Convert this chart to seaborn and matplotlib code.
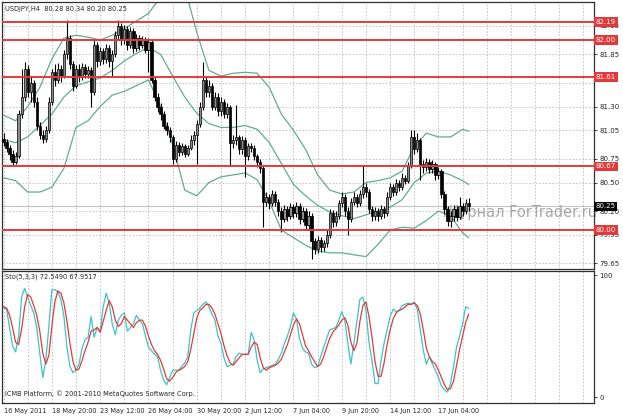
import numpy as np
import pandas as pd
import matplotlib
matplotlib.use("Agg")
import matplotlib.pyplot as plt
import seaborn as sns

# ---- USDJPY H4 candles ----
first_open = 80.96
close = [80.93, 80.86, 80.80, 80.72, 80.78, 81.22, 81.40, 81.70, 81.45, 81.55,
         81.35, 81.10, 81.00, 80.96, 81.05, 81.35, 81.66, 81.58, 81.70, 81.62,
         81.85, 82.02, 81.75, 81.52, 81.70, 81.62, 81.72, 81.64, 81.68, 81.45,
         81.95, 81.78, 81.88, 81.80, 81.92, 81.78, 81.85, 82.05, 82.15, 82.00,
         82.12, 81.95, 82.10, 81.92, 82.02, 81.95, 82.00, 81.90, 81.98, 81.58,
         81.40, 81.30, 81.22, 81.10, 81.05, 80.98, 80.75, 80.90, 80.82, 80.88,
         80.80, 80.86, 80.95, 81.00, 81.12, 81.30, 81.58, 81.45, 81.52, 81.30,
         81.40, 81.25, 81.35, 81.22, 81.30, 80.92, 80.95, 80.98, 80.85, 80.95,
         80.78, 80.88, 80.86, 80.78, 80.72, 80.65, 80.30, 80.35, 80.28, 80.38,
         80.30, 80.20, 80.12, 80.22, 80.15, 80.24, 80.18, 80.25, 80.12, 80.20,
         80.05, 80.15, 79.88, 79.80, 79.90, 79.82, 79.86, 79.95, 80.18, 80.08,
         80.15, 80.28, 80.35, 80.20, 80.12, 80.30, 80.35, 80.28, 80.38, 80.45,
         80.40, 80.22, 80.15, 80.20, 80.15, 80.22, 80.18, 80.35, 80.45, 80.40,
         80.50, 80.45, 80.55, 80.52, 80.68, 80.98, 80.85, 80.95, 80.70, 80.66,
         80.72, 80.64, 80.70, 80.58, 80.62, 80.38, 80.22, 80.10, 80.15, 80.22,
         80.14, 80.25, 80.20, 80.28, 80.25]
high = [81.02, 80.96, 80.90, 80.84, 80.82, 81.26, 81.70, 81.77, 81.74, 81.62,
        81.58, 81.40, 81.14, 81.05, 81.10, 81.40, 81.70, 81.75, 81.76, 81.74,
        81.90, 82.21, 82.05, 81.78, 81.74, 81.75, 81.76, 81.75, 81.73, 81.72,
        82.00, 81.98, 81.93, 81.92, 81.96, 81.95, 81.90, 82.10, 82.21, 82.18,
        82.16, 82.15, 82.14, 82.13, 82.06, 82.05, 82.04, 82.03, 82.02, 82.00,
        81.62, 81.44, 81.34, 81.25, 81.14, 81.08, 81.00, 80.94, 80.93, 80.92,
        80.91, 80.90, 81.00, 81.04, 81.16, 81.35, 81.77, 81.62, 81.58, 81.55,
        81.45, 81.44, 81.40, 81.38, 81.34, 81.32, 81.00, 81.32, 81.00, 80.99,
        80.98, 80.92, 80.92, 80.89, 80.80, 80.75, 80.68, 80.40, 80.38, 80.42,
        80.41, 80.33, 80.24, 80.26, 80.25, 80.28, 80.27, 80.30, 80.28, 80.24,
        80.23, 80.20, 80.18, 79.92, 79.94, 79.93, 79.90, 80.00, 80.22, 80.21,
        80.20, 80.32, 80.40, 80.38, 80.24, 80.34, 80.40, 80.38, 80.42, 80.68,
        80.50, 80.43, 80.25, 80.24, 80.23, 80.26, 80.25, 80.40, 80.50, 80.48,
        80.54, 80.53, 80.60, 80.58, 80.72, 81.05, 81.05, 81.02, 80.97, 80.74,
        80.76, 80.75, 80.74, 80.72, 80.66, 80.64, 80.41, 80.25, 80.20, 80.26,
        80.25, 80.35, 80.28, 80.33, 80.34]
low = [80.88, 80.82, 80.74, 80.68, 80.69, 80.76, 81.18, 81.36, 81.40, 81.35,
       81.30, 81.05, 80.96, 80.92, 80.93, 81.02, 81.32, 81.52, 81.55, 81.56,
       81.60, 81.80, 81.70, 81.46, 81.50, 81.56, 81.58, 81.60, 81.60, 81.30,
       81.42, 81.72, 81.74, 81.75, 81.76, 81.72, 81.61, 81.82, 82.00, 81.95,
       81.96, 81.90, 81.92, 81.86, 81.88, 81.90, 81.92, 81.86, 81.66, 81.55,
       81.36, 81.24, 81.16, 81.06, 81.00, 80.93, 80.70, 80.72, 80.78, 80.79,
       80.77, 80.78, 80.84, 80.90, 80.70, 81.08, 81.26, 81.40, 81.40, 81.26,
       81.26, 81.20, 81.20, 81.18, 81.18, 80.67, 80.86, 80.90, 80.80, 80.80,
       80.56, 80.74, 80.82, 80.74, 80.66, 80.60, 80.03, 80.25, 80.22, 80.25,
       80.25, 80.15, 79.98, 80.08, 80.10, 80.12, 80.13, 80.14, 80.06, 80.08,
       80.00, 80.00, 79.70, 79.75, 79.76, 79.77, 79.78, 79.82, 79.92, 80.03,
       80.04, 80.12, 80.24, 80.15, 79.95, 80.08, 80.26, 80.24, 80.25, 80.34,
       80.35, 80.18, 80.10, 80.11, 80.10, 80.12, 80.13, 80.15, 80.32, 80.36,
       80.37, 80.41, 80.42, 80.48, 80.50, 80.65, 80.80, 80.82, 80.53, 80.60,
       80.62, 80.60, 80.60, 80.53, 80.54, 80.34, 80.17, 80.04, 80.03, 80.10,
       80.10, 80.12, 80.15, 80.17, 80.20]

# ---- Bollinger bands (sampled every few bars) ----
bb_bar = [0, 4, 8, 12, 16, 20, 24, 28, 32, 36, 40, 44, 48, 52, 56, 60, 64, 68, 72, 76,
          80, 84, 88, 92, 96, 100, 104, 108, 112, 116, 120, 124, 128, 132, 136, 140,
          144, 148, 152, 154]
bb_upper = [81.21, 81.15, 81.30, 81.50, 81.80, 82.02, 82.05, 82.03, 82.00, 82.05,
            82.12, 82.20, 82.28, 82.45, 82.65, 82.55, 82.08, 81.68, 81.62, 81.65,
            81.66, 81.65, 81.50, 81.22, 81.05, 80.85, 80.58, 80.42, 80.38, 80.40,
            80.50, 80.52, 80.55, 80.62, 80.88, 81.02, 80.98, 80.98, 81.06, 81.04]
bb_mid = [80.95, 80.92, 80.98, 81.10, 81.22, 81.40, 81.52, 81.56, 81.60, 81.68,
          81.78, 81.86, 81.92, 81.85, 81.62, 81.40, 81.23, 81.12, 81.08, 81.08,
          81.10, 81.06, 80.92, 80.70, 80.48, 80.36, 80.26, 80.19, 80.15, 80.12,
          80.16, 80.20, 80.24, 80.32, 80.50, 80.60, 80.62, 80.58, 80.52, 80.48]
bb_lower = [80.55, 80.52, 80.40, 80.40, 80.45, 80.65, 81.08, 81.15, 81.30, 81.42,
            81.46, 81.52, 81.58, 81.30, 80.90, 80.42, 80.36, 80.50, 80.56, 80.58,
            80.60, 80.53, 80.30, 80.00, 79.92, 79.84, 79.78, 79.76, 79.76, 79.74,
            79.72, 79.85, 80.00, 80.03, 80.02, 80.10, 80.20, 80.15, 79.97, 79.92]

# ---- Stochastic (5,3,3) ----
sto_main = [73, 72, 57, 42, 37, 50, 82, 89, 82, 75,
            69, 57, 36, 16, 30, 57, 88, 88, 86, 80,
            66, 41, 25, 20, 22, 27, 40, 47, 49, 66,
            49, 57, 54, 74, 85, 77, 60, 51, 63, 67,
            69, 54, 57, 60, 67, 63, 60, 50, 41, 38,
            35, 33, 22, 14, 10, 16, 22, 22, 22, 25,
            28, 33, 55, 69, 71, 73, 76, 78, 74, 68,
            63, 50, 44, 32, 25, 26, 27, 33, 36, 35,
            35, 35, 53, 47, 30, 20, 23, 24, 25, 26,
            27, 31, 36, 44, 50, 58, 69, 64, 48, 40,
            37, 36, 27, 24, 25, 33, 41, 48, 55, 56,
            57, 63, 70, 63, 44, 27, 44, 62, 80, 82,
            71, 45, 30, 11, 11, 30, 44, 55, 66, 72,
            70, 71, 75, 76, 77, 76, 78, 72, 55, 38,
            27, 33, 27, 22, 16, 9, 6, 4, 11, 25,
            41, 50, 60, 74, 72.55]
sto_signal = [74, 73, 67, 57, 45, 43, 56, 74, 84, 82,
              75, 67, 54, 36, 27, 34, 58, 78, 87, 85,
              77, 62, 44, 29, 22, 23, 30, 38, 45, 54,
              55, 57, 53, 62, 71, 79, 74, 63, 58, 60,
              66, 63, 60, 57, 61, 63, 63, 58, 50, 43,
              38, 35, 30, 23, 15, 13, 16, 20, 22, 23,
              25, 29, 39, 52, 65, 71, 73, 76, 76, 73,
              68, 60, 52, 42, 34, 28, 26, 29, 32, 35,
              35, 35, 41, 45, 43, 32, 24, 22, 24, 25,
              26, 28, 31, 37, 43, 51, 59, 64, 60, 51,
              42, 38, 33, 29, 25, 27, 33, 41, 48, 53,
              56, 59, 63, 65, 59, 45, 38, 44, 62, 75,
              78, 66, 49, 29, 17, 17, 28, 43, 55, 64,
              69, 71, 72, 74, 76, 76, 77, 75, 68, 55,
              40, 33, 29, 27, 22, 16, 10, 6, 7, 13,
              26, 39, 50, 61, 67.95]

levels = [82.19, 82.00, 81.61, 80.67, 80.00]
last_price = 80.25
grid_prices = [82.15, 81.85, 81.55, 81.30, 81.05, 80.75, 80.50, 80.20, 79.95, 79.65]
price_ticks = [82.15, 81.85, 81.30, 81.05, 80.75, 80.50, 80.20, 79.95, 79.65]
time_labels = ["16 May 2011", "18 May 20:00", "23 May 12:00", "26 May 04:00",
               "30 May 20:00", "2 Jun 12:00", "7 Jun 04:00", "9 Jun 20:00",
               "14 Jun 12:00", "17 Jun 04:00"]

sns.set_style("white")
plt.rcParams["font.family"] = ["DejaVu Sans"]

RED = "#e23a3a"
GRID = "#bdbdbd"
BAND = "#62ad8a"

df = pd.DataFrame({"open": [first_open] + close[:-1], "high": high, "low": low, "close": close})
df["bar"] = np.arange(len(df))
bands = pd.DataFrame({"bar": bb_bar, "upper": bb_upper, "mid": bb_mid, "lower": bb_lower})
sto = pd.DataFrame({"bar": np.arange(len(sto_main)), "main": sto_main, "signal": sto_signal})

W, H = 623, 416
fig = plt.figure(figsize=(W / 100, H / 100), dpi=100)
ax1 = fig.add_axes([2 / W, (H - 269) / H, 592 / W, 267 / H])
ax2 = fig.add_axes([2 / W, (H - 403) / H, 592 / W, 132 / H])

xmin, xmax = -0.5, 195.5
for ax in (ax1, ax2):
    ax.set_xlim(xmin, xmax)
    for b in range(0, 196, 8):
        ax.axvline(b, color=GRID, lw=0.6, ls=(0, (2, 2)), zorder=0)
    for s in ax.spines.values():
        s.set_color("#303030")
        s.set_linewidth(0.9)

# main price panel
ax1.set_ylim(79.59, 82.40)
for p in grid_prices:
    ax1.axhline(p, color=GRID, lw=0.6, ls=(0, (2, 2)), zorder=0)
ax1.axhline(last_price, color="#c4c4c4", lw=0.8, zorder=1)

ax1.text(443 / W, 1 - 213 / H, "Журнал ForTrader.ru", transform=fig.transFigure,
         fontsize=10.5, color="#a8a8a8", va="center", ha="left", zorder=1, clip_on=False)

for name in ("upper", "mid", "lower"):
    sns.lineplot(data=bands, x="bar", y=name, ax=ax1, color=BAND, lw=0.9, zorder=2)

up = df["close"] >= df["open"]
body = (df["close"] - df["open"]).abs().clip(lower=0.008)
bottom = df[["open", "close"]].min(axis=1)
ax1.vlines(df["bar"], df["low"], df["high"], color="black", lw=0.8, zorder=4)
ax1.bar(df["bar"][up], body[up], bottom=bottom[up], width=0.74, color="#8c8c8c",
        edgecolor="black", linewidth=0.5, zorder=5)
ax1.bar(df["bar"][~up], body[~up], bottom=bottom[~up], width=0.74, color="black",
        edgecolor="black", linewidth=0.5, zorder=5)

for lv in levels:
    ax1.axhline(lv, color=RED, lw=1.4, zorder=6)
    ax1.annotate(f"{lv:.2f}", xy=(1.0, lv), xycoords=("axes fraction", "data"),
                 xytext=(1.2, 0), textcoords="offset points", ha="left", va="center",
                 fontsize=5, color="white", annotation_clip=False, zorder=10,
                 bbox=dict(boxstyle="square,pad=0.25", fc=RED, ec="none"))
ax1.annotate(f"{last_price:.2f}", xy=(1.0, last_price), xycoords=("axes fraction", "data"),
             xytext=(1.2, 0), textcoords="offset points", ha="left", va="center",
             fontsize=5, color="white", annotation_clip=False, zorder=10,
             bbox=dict(boxstyle="square,pad=0.25", fc="black", ec="none"))

ax1.yaxis.tick_right()
ax1.set_yticks(price_ticks)
ax1.set_yticklabels([f"{p:.2f}" for p in price_ticks])
ax1.tick_params(axis="y", labelsize=5, length=2, pad=2, width=0.6)
ax1.set_xticks([])
ax1.set_xlabel("")
ax1.set_ylabel("")

# stochastic panel
ax2.set_ylim(-4.9, 103.3)
sns.lineplot(data=sto, x="bar", y="main", ax=ax2, color="#3cc4c4", lw=0.9, zorder=3)
sns.lineplot(data=sto, x="bar", y="signal", ax=ax2, color=RED, lw=0.9, zorder=4)
ax2.yaxis.tick_right()
ax2.set_yticks([0, 100])
ax2.set_yticklabels(["0", "100"])
ax2.tick_params(axis="y", labelsize=5, length=2, pad=2, width=0.6)
ax2.set_xticks(range(0, 16 * len(time_labels), 16))
ax2.set_xticklabels(time_labels, ha="left")
ax2.tick_params(axis="x", labelsize=4.7, length=2, pad=1.5, width=0.6)
ax2.set_xlabel("")
ax2.set_ylabel("")

fig.text(5 / W, 1 - 9 / H, "USDJPY,H4  80.28 80.34 80.20 80.25", fontsize=4.8, va="center")
fig.text(5 / W, 1 - 277 / H, "Sto(5,3,3) 72.5490 67.9517", fontsize=4.8, va="center")
fig.text(5 / W, 1 - 394 / H, "ICMB Platform, © 2001-2010 MetaQuotes Software Corp.",
         fontsize=4.8, va="center")

fig.savefig("out.png", dpi=100)
